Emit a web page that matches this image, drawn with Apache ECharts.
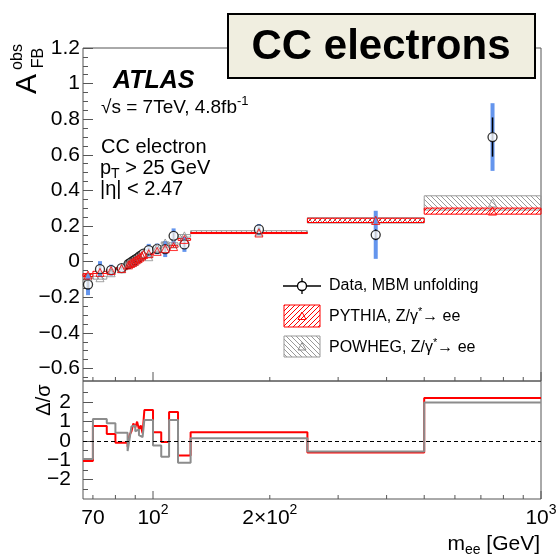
<!DOCTYPE html>
<html lang="en">
<head>
<meta charset="UTF-8">
<title>CC electrons</title>
<script src="https://cdn.jsdelivr.net/npm/echarts@6.0.0/dist/echarts.min.js"></script>
<style>
  html, body { margin: 0; padding: 0; background: #fff; }
  #main { width: 559px; height: 557px; }
</style>
</head>
<body>
<div id="main"></div>
<script>
// mass bin edges [GeV]
var binEdges = [66, 70, 76, 80, 86, 87, 88, 89, 90, 91, 92, 93, 94, 95, 100, 105, 110, 116, 125, 250, 500, 1000];
// data, MBM unfolding
var dataAfb   = [-0.128, -0.042, -0.047, -0.036, -0.013, -0.006, 0.001, 0.008, 0.016, 0.022, 0.031, 0.037, 0.045, 0.065, 0.072, 0.071, 0.145, 0.097, 0.181, 0.151, 0.70];
var dataErrIn = [0.025, 0.02, 0.014, 0.008, 0.005, 0.004, 0.004, 0.004, 0.004, 0.004, 0.004, 0.004, 0.005, 0.012, 0.012, 0.016, 0.018, 0.018, 0.012, 0.03, 0.11];
var dataErrTot = [0.06, 0.045, 0.03, 0.018, 0.01, 0.008, 0.008, 0.008, 0.008, 0.008, 0.008, 0.009, 0.01, 0.035, 0.03, 0.045, 0.042, 0.042, 0.03, 0.135, 0.19];
// predictions
var pythiaAfb = [-0.075, -0.06, -0.05, -0.038, -0.018, -0.01, -0.004, 0.003, 0.01, 0.017, 0.025, 0.032, 0.04, 0.045, 0.058, 0.073, 0.085, 0.125, 0.161, 0.232, 0.284];
var pythiaErr = [0.008, 0.006, 0.005, 0.004, 0.003, 0.003, 0.003, 0.003, 0.003, 0.003, 0.003, 0.003, 0.003, 0.004, 0.004, 0.005, 0.005, 0.005, 0.003, 0.012, 0.017];
var powhegAfb = [-0.082, -0.09, -0.062, -0.04, -0.01, -0.008, -0.005, 0.001, 0.012, 0.018, 0.028, 0.035, 0.044, 0.028, 0.078, 0.105, 0.1, 0.145, 0.167, 0.232, 0.33];
var powhegErr = [0.01, 0.008, 0.006, 0.005, 0.004, 0.004, 0.004, 0.004, 0.004, 0.004, 0.004, 0.004, 0.004, 0.005, 0.005, 0.006, 0.006, 0.007, 0.007, 0.015, 0.04];
// (data - prediction) / sigma
var pythiaPull = [-1.04, 0.78, 0.36, -0.09, -0.3, 0.3, 0.5, 0.9, 0.7, 1.0, 0.6, 0.8, 0.4, 1.6, 0.45, -0.05, 1.5, -0.75, 0.45, -0.6, 2.22];
var powhegPull = [-0.93, 1.13, 0.92, 0.43, -0.52, 0.1, 0.75, 0.8, 0.5, 0.6, 0.3, 0.2, 0.1, 1.09, -0.24, -0.81, 1.09, -1.12, 0.14, -0.55, 1.99];
// axis ticks
var yTicksTop = [-0.6, -0.4, -0.2, 0, 0.2, 0.4, 0.6, 0.8, 1, 1.2];
var yTicksRatio = [-2, -1, 0, 1, 2];
var yMinorRatio = [-2.5, -1.5, -0.5, 0.5, 1.5, 2.5];
var xTickLabels = [70, 100, 200, 1000];
var xMinorTicks = [70, 80, 90, 200, 300, 400, 500, 600, 700, 800, 900];
var xMajorTicks = [100, 1000];

var FONT = 'Liberation Sans, Arial, Helvetica, sans-serif';
var AX = '#555';
var RED = '#ff0000', GREY = '#8c8c8c', BLUE = '#6495ed';
var TOP_MIN = -0.67, TOP_MAX = 1.2, R_MIN = -3, R_MAX = 3.1;

var yMinorTop = [];
for (var t = -13; t <= 24; t++) { if (t % 4 !== 0) yMinorTop.push(+(t * 0.05).toFixed(2)); }

function hatch(color, dir) {
    var n = 5;
    var c = document.createElement('canvas');
    c.width = n; c.height = n;
    var g = c.getContext('2d');
    g.strokeStyle = color; g.lineWidth = 1;
    g.beginPath();
    if (dir > 0) {
        g.moveTo(0, n); g.lineTo(n, 0);
        g.moveTo(-1, 1); g.lineTo(1, -1);
        g.moveTo(n - 1, n + 1); g.lineTo(n + 1, n - 1);
    } else {
        g.moveTo(0, 0); g.lineTo(n, n);
        g.moveTo(n - 1, -1); g.lineTo(n + 1, 1);
        g.moveTo(-1, n - 1); g.lineTo(1, n + 1);
    }
    g.stroke();
    return { image: c, repeat: 'repeat' };
}
var redHatch = hatch(RED, 1);
var greyHatch = hatch('#999', -1);

function fmtNum(v) {
    var s = String(+Math.abs(v).toFixed(2));
    return (v < 0 ? '\u2212' : '') + s;
}

var centers = [];
for (var i = 0; i < binEdges.length - 1; i++) centers.push((binEdges[i] + binEdges[i + 1]) / 2);

function bandRows(vals, errs) {
    return vals.map(function (v, k) { return [binEdges[k], binEdges[k + 1], v, errs[k]]; });
}
function bandItem(fill, stroke) {
    return function (params, api) {
        var a = api.coord([api.value(0), api.value(2) + api.value(3)]);
        var b = api.coord([api.value(1), api.value(2) - api.value(3)]);
        return {
            type: 'rect',
            shape: { x: a[0], y: a[1], width: b[0] - a[0], height: Math.max(b[1] - a[1], 1) },
            style: { fill: fill, stroke: stroke, lineWidth: 1 }
        };
    };
}
function errItem(width, color) {
    return function (params, api) {
        var a = api.coord([api.value(0), api.value(1) + api.value(2)]);
        var b = api.coord([api.value(0), api.value(1) - api.value(2)]);
        return { type: 'line', shape: { x1: a[0], y1: a[1], x2: b[0], y2: b[1] }, style: { stroke: color, lineWidth: width } };
    };
}
function tickItem(len) {
    return function (params, api) {
        var p = api.coord([api.value(0), api.value(1)]);
        return { type: 'line', shape: { x1: p[0], y1: p[1], x2: p[0], y2: p[1] - len }, style: { stroke: AX, lineWidth: 1 } };
    };
}
function stepData(pulls) {
    var d = pulls.map(function (v, k) { return [binEdges[k], v]; });
    d.push([binEdges[binEdges.length - 1], pulls[pulls.length - 1]]);
    return d;
}
function xLabelText(v) {
    if (v === 100) return '{n|10}{s|2}';
    if (v === 200) return '{n|2\u00d710}{s|2}';
    if (v === 1000) return '{n|10}{s|3}';
    return '{n|' + v + '}';
}
var supRich = {
    n: { fontSize: 21, fontFamily: FONT, lineHeight: 30, color: '#000' },
    s: { fontSize: 14, fontFamily: FONT, lineHeight: 12, verticalAlign: 'top', color: '#000' }
};
function richSet(size, lh) {
    return {
        n: { fontSize: size, fontFamily: FONT, lineHeight: lh, color: '#000' },
        s: { fontSize: Math.round(size * 0.68), fontFamily: FONT, lineHeight: Math.round(lh * 0.45), verticalAlign: 'top', color: '#000' },
        b: { fontSize: Math.round(size * 0.68), fontFamily: FONT, lineHeight: Math.round(lh * 0.45), verticalAlign: 'bottom', color: '#000' }
    };
}

var chart = echarts.init(document.getElementById('main'));

var hiddenX = function (g) {
    return { type: 'log', logBase: 10, gridIndex: g, min: 66, max: 1000, axisLine: { show: false }, axisTick: { show: false }, axisLabel: { show: false }, splitLine: { show: false } };
};

var option = {
    animation: false,
    grid: [
        { left: 83, top: 48, width: 458, height: 333, show: true, borderColor: AX, borderWidth: 1 },
        { left: 83, top: 381, width: 458, height: 118, show: true, borderColor: AX, borderWidth: 1 }
    ],
    xAxis: [hiddenX(0), hiddenX(1)],
    yAxis: [
        {
            type: 'value', gridIndex: 0, min: TOP_MIN, max: TOP_MAX,
            axisLine: { show: false }, splitLine: { show: false },
            axisTick: { inside: true, length: 10, customValues: yTicksTop, lineStyle: { color: AX } },
            axisLabel: { customValues: yTicksTop, formatter: fmtNum, fontSize: 21, fontFamily: FONT, color: '#000', margin: 3, hideOverlap: false }
        },
        {
            type: 'value', gridIndex: 0, min: TOP_MIN, max: TOP_MAX, position: 'left',
            axisLine: { show: false }, splitLine: { show: false }, axisLabel: { show: false },
            axisTick: { inside: true, length: 5, customValues: yMinorTop, lineStyle: { color: AX } }
        },
        {
            type: 'value', gridIndex: 1, min: R_MIN, max: R_MAX,
            axisLine: { show: false }, splitLine: { show: false }, axisLabel: { show: false },
            axisTick: { inside: true, length: 10, customValues: yTicksRatio, lineStyle: { color: AX } }
        },
        {
            type: 'value', gridIndex: 1, min: R_MIN, max: R_MAX, position: 'left',
            axisLine: { show: false }, splitLine: { show: false }, axisLabel: { show: false },
            axisTick: { inside: true, length: 5, customValues: yMinorRatio, lineStyle: { color: AX } }
        }
    ],
    series: [
        { type: 'custom', name: 'POWHEG', xAxisIndex: 0, yAxisIndex: 0, z: 2,
          renderItem: bandItem(greyHatch, '#999'), data: bandRows(powhegAfb, powhegErr) },
        { type: 'custom', name: 'PYTHIA', xAxisIndex: 0, yAxisIndex: 0, z: 2,
          renderItem: bandItem(redHatch, RED), data: bandRows(pythiaAfb, pythiaErr) },
        { type: 'custom', name: 'total', xAxisIndex: 0, yAxisIndex: 0, z: 4,
          renderItem: errItem(4, BLUE), data: centers.map(function (c, k) { return [c, dataAfb[k], dataErrTot[k]]; }) },
        { type: 'custom', name: 'inner', xAxisIndex: 0, yAxisIndex: 0, z: 5,
          renderItem: errItem(1.5, '#000'), data: centers.map(function (c, k) { return [c, dataAfb[k], dataErrIn[k]]; }) },
        { type: 'scatter', name: 'Data', xAxisIndex: 0, yAxisIndex: 0, z: 6, symbol: 'circle', symbolSize: 9,
          itemStyle: { color: '#fff', borderColor: '#000', borderWidth: 1.3 },
          data: centers.map(function (c, k) { return [c, dataAfb[k]]; }) },
        { type: 'scatter', xAxisIndex: 0, yAxisIndex: 0, z: 7, symbol: 'triangle', symbolSize: 8,
          itemStyle: { color: 'transparent', borderColor: GREY, borderWidth: 1 },
          data: centers.map(function (c, k) { return [c, powhegAfb[k]]; }) },
        { type: 'scatter', xAxisIndex: 0, yAxisIndex: 0, z: 7, symbol: 'triangle', symbolSize: 8,
          itemStyle: { color: 'transparent', borderColor: RED, borderWidth: 1 },
          data: centers.map(function (c, k) { return [c, pythiaAfb[k]]; }) },
        // ratio panel
        { type: 'line', xAxisIndex: 1, yAxisIndex: 2, step: 'end', symbol: 'none', z: 3,
          lineStyle: { color: RED, width: 2 }, data: stepData(pythiaPull),
          markLine: { silent: true, symbol: ['none', 'none'], label: { show: false },
                      lineStyle: { color: '#000', type: [4, 3], width: 1 }, data: [{ yAxis: 0 }] } },
        { type: 'line', xAxisIndex: 1, yAxisIndex: 2, step: 'end', symbol: 'none', z: 4,
          lineStyle: { color: GREY, width: 2 }, data: stepData(powhegPull) },
        // x ticks
        { type: 'custom', xAxisIndex: 0, yAxisIndex: 0, z: 8, renderItem: tickItem(4),
          data: xMinorTicks.map(function (v) { return [v, TOP_MIN]; }) },
        { type: 'custom', xAxisIndex: 0, yAxisIndex: 0, z: 8, renderItem: tickItem(9),
          data: xMajorTicks.map(function (v) { return [v, TOP_MIN]; }) },
        { type: 'custom', xAxisIndex: 1, yAxisIndex: 2, z: 8, renderItem: tickItem(4),
          data: xMinorTicks.map(function (v) { return [v, R_MIN]; }) },
        { type: 'custom', xAxisIndex: 1, yAxisIndex: 2, z: 8, renderItem: tickItem(8),
          data: xMajorTicks.map(function (v) { return [v, R_MIN]; }) },
        // x tick labels
        { type: 'custom', xAxisIndex: 1, yAxisIndex: 2, z: 8,
          renderItem: function (params, api) {
              var p = api.coord([api.value(0), R_MIN]);
              return { type: 'text', x: p[0], y: p[1] + 4,
                       style: { text: xLabelText(api.value(0)), rich: supRich, align: 'center', verticalAlign: 'top' } };
          },
          data: xTickLabels.map(function (v) { return [v, R_MIN]; }) },
        // ratio y tick labels
        { type: 'custom', xAxisIndex: 1, yAxisIndex: 2, z: 8,
          renderItem: function (params, api) {
              var p = api.coord([66, api.value(1)]);
              return { type: 'text', x: p[0] - 12, y: p[1],
                       style: { text: fmtNum(api.value(1)), font: '21px ' + FONT, fill: '#000', align: 'right', verticalAlign: 'middle' } };
          },
          data: yTicksRatio.map(function (v) { return [66, v]; }) }
    ],
    graphic: [
        // title box
        { type: 'rect', z: 100, shape: { x: 228, y: 14, width: 307, height: 64 },
          style: { fill: '#f0eee0', stroke: '#000', lineWidth: 2 } },
        { type: 'text', z: 101, x: 381, y: 47,
          style: { text: 'CC electrons', font: 'bold 42px ' + FONT, fill: '#000', align: 'center', verticalAlign: 'middle' } },
        // y titles
        { type: 'text', z: 101, x: 28, y: 84, rotation: Math.PI / 2,
          style: { text: 'A', font: '30px ' + FONT, fill: '#000', align: 'center', verticalAlign: 'middle' } },
        { type: 'text', z: 101, x: 18, y: 57, rotation: Math.PI / 2,
          style: { text: 'obs', font: '16px ' + FONT, fill: '#000', align: 'center', verticalAlign: 'middle' } },
        { type: 'text', z: 101, x: 39, y: 58, rotation: Math.PI / 2,
          style: { text: 'FB', font: '16px ' + FONT, fill: '#000', align: 'center', verticalAlign: 'middle' } },
        { type: 'text', z: 101, x: 44, y: 400, rotation: Math.PI / 2,
          style: { text: '\u0394/\u03c3', font: '20px ' + FONT, fill: '#000', align: 'center', verticalAlign: 'middle' } },
        // x title
        { type: 'text', z: 101, x: 540, y: 531,
          style: { text: '{n|m}{b|ee}{n| [GeV]}', rich: richSet(21, 26), align: 'right', verticalAlign: 'top' } },
        // labels
        { type: 'text', z: 101, x: 113, y: 81,
          style: { text: 'ATLAS', font: 'italic bold 25px ' + FONT, fill: '#000', align: 'left', verticalAlign: 'middle' } },
        { type: 'text', z: 101, x: 101, y: 95,
          style: { text: '{n|\u221as = 7TeV, 4.8fb}{s|-1}', rich: richSet(19, 26), align: 'left', verticalAlign: 'top' } },
        { type: 'text', z: 101, x: 101, y: 147,
          style: { text: 'CC electron', font: '20px ' + FONT, fill: '#000', align: 'left', verticalAlign: 'middle' } },
        { type: 'text', z: 101, x: 100, y: 155,
          style: { text: '{n|p}{b|T}{n| > 25 GeV}', rich: richSet(20, 26), align: 'left', verticalAlign: 'top' } },
        { type: 'text', z: 101, x: 100, y: 189,
          style: { text: '|\u03b7| < 2.47', font: '20px ' + FONT, fill: '#000', align: 'left', verticalAlign: 'middle' } },
        // legend
        { type: 'line', z: 101, shape: { x1: 283, y1: 286, x2: 321, y2: 286 }, style: { stroke: '#000', lineWidth: 1.3 } },
        { type: 'line', z: 101, shape: { x1: 302, y1: 278, x2: 302, y2: 294 }, style: { stroke: '#000', lineWidth: 1.3 } },
        { type: 'circle', z: 102, shape: { cx: 302, cy: 286, r: 4.5 }, style: { fill: '#fff', stroke: '#000', lineWidth: 1.3 } },
        { type: 'rect', z: 101, shape: { x: 284, y: 305, width: 36, height: 22 }, style: { fill: redHatch, stroke: RED, lineWidth: 1 } },
        { type: 'polygon', z: 102, shape: { points: [[302, 312], [306, 319.5], [298, 319.5]] }, style: { fill: 'none', stroke: RED, lineWidth: 1 } },
        { type: 'rect', z: 101, shape: { x: 284, y: 336, width: 36, height: 21 }, style: { fill: greyHatch, stroke: '#999', lineWidth: 1 } },
        { type: 'polygon', z: 102, shape: { points: [[302, 342.5], [306, 350], [298, 350]] }, style: { fill: 'none', stroke: GREY, lineWidth: 1 } },
        { type: 'text', z: 101, x: 329, y: 286,
          style: { text: 'Data, MBM unfolding', font: '16px ' + FONT, fill: '#000', align: 'left', verticalAlign: 'middle' } },
        { type: 'text', z: 101, x: 329, y: 306,
          style: { text: '{n|PYTHIA, Z/\u03b3}{s|*}{n|\u2192 ee}', rich: richSet(16, 22), align: 'left', verticalAlign: 'top' } },
        { type: 'text', z: 101, x: 329, y: 337,
          style: { text: '{n|POWHEG, Z/\u03b3}{s|*}{n|\u2192 ee}', rich: richSet(16, 22), align: 'left', verticalAlign: 'top' } }
    ]
};
chart.setOption(option);
</script>
</body>
</html>
